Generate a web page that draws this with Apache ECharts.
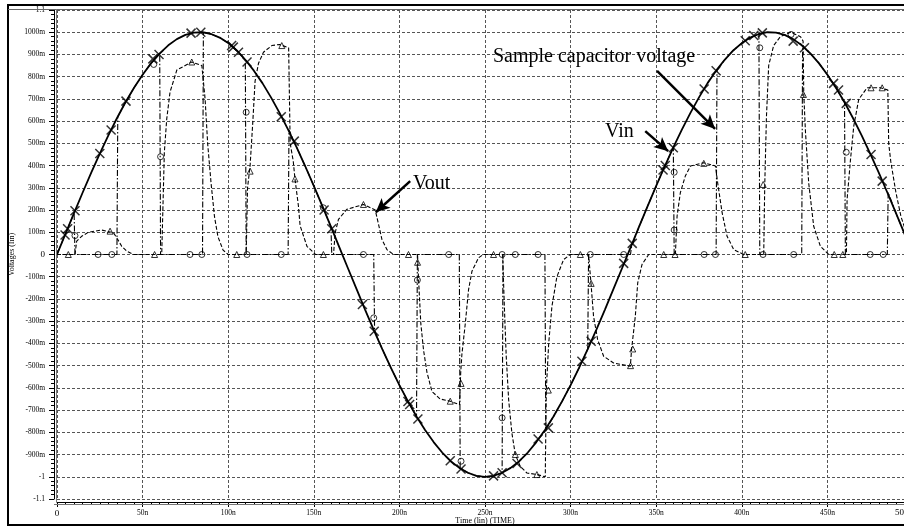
<!DOCTYPE html>
<html><head><meta charset="utf-8">
<script src="https://cdn.jsdelivr.net/npm/echarts@6/dist/echarts.min.js"></script>
<style>html,body{margin:0;padding:0;background:#fff}#c{width:904px;height:527px}</style>
</head><body><div id="c"></div>
<script>
// ---- data (time in ns, voltage in V) ----
const vinTime = [0,5,10,15,20,25,30,35,40,45,50,55,60,65,70,75,80,85,90,95,100,105,110,115,120,125,130,135,140,145,150,155,160,165,170,175,180,185,190,195,200,205,210,215,220,225,230,235,240,245,250,255,260,265,270,275,280,285,290,295,300,305,310,315,320,325,330,335,340,345,350,355,360,365,370,375,380,385,390,395,400,405,410,415,420,425,430,435,440,445,450,455,460,465,470,475,480,485,490,495,500];
const vinValues = [0,0.094,0.187,0.279,0.368,0.454,0.536,0.613,0.685,0.750,0.809,0.861,0.905,0.941,0.969,0.988,0.998,1.000,0.992,0.976,0.951,0.918,0.876,0.827,0.771,0.707,0.637,0.562,0.482,0.397,0.309,0.218,0.125,0.031,-0.063,-0.156,-0.249,-0.339,-0.426,-0.509,-0.588,-0.661,-0.729,-0.790,-0.844,-0.891,-0.930,-0.960,-0.982,-0.996,-1.000,-0.996,-0.982,-0.960,-0.930,-0.891,-0.844,-0.790,-0.729,-0.661,-0.588,-0.509,-0.426,-0.339,-0.249,-0.156,-0.063,0.031,0.125,0.218,0.309,0.397,0.482,0.562,0.637,0.707,0.771,0.827,0.876,0.918,0.951,0.976,0.992,1.000,0.998,0.988,0.969,0.941,0.905,0.861,0.809,0.750,0.685,0.613,0.536,0.454,0.368,0.279,0.187,0.094,0.000];

const capData = [[0,0],[5,0.094],[10,0.187],[10.5,0],[35,0],[35.5,0.62],[40,0.685],[45,0.75],[50,0.809],[55,0.861],[60,0.905],[60.5,0],[85,0],[85.5,0.999],[90,0.992],[95,0.976],[100,0.951],[105,0.918],[110,0.876],[110.5,0],[135,0],[135.5,0.56],[140,0.482],[145,0.397],[150,0.309],[155,0.218],[160,0.125],[160.5,0],[185,0],[185.5,-0.34],[190,-0.426],[195,-0.509],[200,-0.588],[205,-0.661],[210,-0.729],[210.5,0],[235,0],[235.5,-0.96],[240,-0.982],[245,-0.996],[250,-1.0],[255,-0.996],[260,-0.982],[260.5,0],[285,0],[285.5,-0.79],[290,-0.729],[295,-0.661],[300,-0.588],[305,-0.509],[310,-0.426],[310.5,0],[335,0],[335.5,0.031],[340,0.125],[345,0.218],[350,0.309],[355,0.397],[360,0.482],[360.5,0],[385,0],[385.5,0.827],[390,0.876],[395,0.918],[400,0.951],[405,0.976],[410,0.992],[410.5,0],[435,0],[435.5,0.941],[440,0.905],[445,0.861],[450,0.809],[455,0.750],[460,0.685],[460.5,0],[485,0],[485.5,0.279],[490,0.187],[495,0.094],[500,0]];

const voutData = [[0,0],[10.5,0],[11.5,0.06],[14.4,0.082],[18.3,0.1],[26,0.11],[33,0.098],[34.9,0.075],[37.8,0.037],[40.7,0.015],[44.6,0],
[60.5,0],[61.2,0.01],[62.7,0.46],[64.1,0.61],[66,0.73],[70,0.83],[78.7,0.866],[84.6,0.85],[85.5,0.85],[86.5,0.7],[88,0.5],[90,0.32],[92,0.17],[94,0.08],[97,0.02],[100,0],
[110.5,0],[111.3,0.3],[112.8,0.4],[114.4,0.6],[115.7,0.78],[117.7,0.86],[120.6,0.91],[125.5,0.94],[130,0.945],[135.3,0.93],[136.2,0.5],[138,0.42],[139,0.34],[141,0.22],[142,0.13],[146,0.037],[151,0],
[161.5,0],[162.5,0.098],[164.4,0.158],[169.3,0.203],[179,0.225],[185.9,0.2],[186.8,0.17],[189.8,0.068],[192.7,0.022],[196.6,0],
[210.6,0],[211.2,-0.113],[212.5,-0.31],[214.1,-0.43],[216.1,-0.53],[219,-0.616],[223.8,-0.65],[229.7,-0.66],[235.1,-0.676],[235.8,-0.533],[236.5,-0.45],[238.5,-0.31],[240.4,-0.158],[242.4,-0.075],[246.2,-0.015],[249,0],
[260.3,0],[261.3,-0.233],[262.4,-0.458],[263.8,-0.653],[265.7,-0.803],[267.7,-0.9],[270.6,-0.953],[274.5,-0.983],[280.3,-0.99],[285.2,-1.0],[285.8,-0.61],[287.2,-0.4],[289.1,-0.233],[292,-0.1],[295.9,-0.023],[299.8,0],
[310.5,0],[311.9,-0.128],[313.4,-0.278],[315.8,-0.383],[319.3,-0.458],[325.1,-0.488],[334.9,-0.503],[335.6,-0.428],[337.8,-0.278],[339.2,-0.128],[341.7,-0.045],[345.6,0],
[361.2,0],[362.2,0.173],[364.1,0.278],[367,0.353],[370,0.398],[377.7,0.413],[384.6,0.398],[385.9,0.323],[388.5,0.188],[391.4,0.082],[395.3,0.022],[401.1,0],
[412.8,0],[413.4,0.31],[414.4,0.62],[415.7,0.85],[418.6,0.94],[422.5,0.98],[428.4,1.0],[434.3,0.98],[435.8,0.96],[436.2,0.72],[437.2,0.55],[439.1,0.32],[442,0.127],[445.9,0.037],[450.8,0],
[461.1,0],[461.5,0.248],[463.5,0.428],[465.4,0.578],[468.3,0.698],[473.2,0.75],[481,0.75],[485.3,0.74],[485.8,0.5],[487,0.42],[490,0.28],[493,0.17],[496,0.1],[500,0.04]];

const vinMarks = [[4.7,0.088],[6.2,0.116],[10.5,0.197],[25,0.454],[31.6,0.56],[40.3,0.69],[56,0.88],[59.6,0.9],[78.3,0.996],[84,1.0],[102,0.94],[103,0.933],[106,0.91],[111,0.866],[131,0.62],[138.6,0.51],[156,0.2],[160.5,0.116],[178.4,-0.225],[185.3,-0.345],[205,-0.661],[206,-0.675],[210.8,-0.74],[229.7,-0.928],[236,-0.965],[255,-0.996],[260,-0.982],[268.7,-0.94],[281,-0.83],[287,-0.78],[306.6,-0.48],[312,-0.39],[331,-0.04],[336,0.05],[354,0.38],[355.3,0.4],[360,0.48],[378,0.745],[385,0.827],[402,0.962],[407,0.985],[412,0.997],[430,0.96],[436.6,0.93],[453.6,0.77],[456.5,0.74],[461,0.68],[475.5,0.45],[482,0.33]];

const capMarks = [[10.5,0.085],[24,0],[32,0],[56.5,0.855],[60.5,0.44],[77.7,0],[84.6,0],[110.5,0.64],[111,0],[131,0],[155.6,0.21],[179,0],[185,-0.285],[210.5,-0.115],[228.8,0],[236,-0.93],[260,-0.735],[260,0],[267.7,0],[281,0],[311.5,0],[331,0],[360.5,0.37],[360.5,0.11],[378,0],[384.6,0],[410.5,0.93],[412.4,0],[428.8,0.99],[430.3,0],[461,0.46],[475,0],[482.6,0]];

const voutMarks = [[6.6,0],[31,0.105],[57,0],[78.7,0.866],[105,0],[112.8,0.375],[131.3,0.94],[139,0.34],[155.6,0],[179,0.225],[205.3,0],[210.6,-0.035],[229.7,-0.66],[236,-0.58],[255,0],[267.7,-0.9],[280.3,-0.99],[287,-0.61],[305.7,0],[312,-0.13],[335,-0.5],[336.3,-0.425],[354.4,0],[361,0],[377.8,0.41],[402,0],[412.5,0.315],[436,0.72],[454,0],[459,0],[475.5,0.75],[482,0.75]];

const yTickLabels = ['-1.1','-1','-900m','-800m','-700m','-600m','-500m','-400m','-300m','-200m','-100m','0','100m','200m','300m','400m','500m','600m','700m','800m','900m','1000m','1.1'];
const xTickLabels = ['0','50n','100n','150n','200n','250n','300n','350n','400n','450n','500n'];

// annotation arrows (data coordinates: [tail],[head])
const arrows = [
  [[206.3,0.33],[186.2,0.19]],
  [[350.5,0.826],[384.4,0.565]],
  [[343.6,0.555],[357,0.465]]
];

const chart = echarts.init(document.getElementById('c'), null, {renderer:'canvas'});
const FONT = '"Liberation Serif", "Times New Roman", serif';
const vinData = vinTime.map((t,i)=>[t, vinValues[i]]);

chart.setOption({
  animation:false,
  backgroundColor:'#fff',
  grid:{left:57, top:10, width:856, height:489, outerBoundsMode:'none', containLabel:false},
  xAxis:{
    type:'value', min:0, max:500, interval:50, offset:3,
    name:'Time (lin) (TIME)', nameLocation:'middle', nameGap:15, nameMoveOverlap:false,
    nameTextStyle:{fontFamily:FONT, fontSize:8, color:'#000'},
    axisLine:{onZero:false, lineStyle:{color:'#000', width:1}},
    axisTick:{length:5, lineStyle:{color:'#000'}},
    minorTick:{show:true, splitNumber:10, length:3, lineStyle:{color:'#000'}},
    axisLabel:{margin:7, color:'#000', fontFamily:FONT, fontSize:7.5,
      formatter:function(v){const i=Math.round(v/50); if(i>=10) return ''; const s=xTickLabels[i]; return s==='0'?'{b|0}':s;},
      rich:{b:{fontSize:9, fontFamily:FONT, color:'#000'}}},
    splitLine:{show:true, lineStyle:{color:'#555', width:1, type:[3,2]}},
    minorSplitLine:{show:false}
  },
  yAxis:{
    type:'value', min:-1.1, max:1.1, interval:0.1, offset:3,
    name:'Voltages (lin)', nameLocation:'middle', nameGap:38, nameRotate:90, nameMoveOverlap:false,
    nameTextStyle:{fontFamily:FONT, fontSize:8, color:'#000'},
    axisLine:{onZero:false, lineStyle:{color:'#000', width:1}},
    axisTick:{length:5, lineStyle:{color:'#000'}},
    minorTick:{show:true, splitNumber:5, length:3, lineStyle:{color:'#000'}},
    axisLabel:{margin:9, color:'#000', fontFamily:FONT, fontSize:7.5,
      formatter:function(v){const s=yTickLabels[Math.round(v*10)+11]; return s==='0'?'{b|0}':s;},
      rich:{b:{fontSize:9, fontFamily:FONT, color:'#000'}}},
    splitLine:{show:true, lineStyle:{color:'#555', width:1, type:[3,2]}}
  },
  series:[
    {name:'Vin', type:'line', data:vinData, showSymbol:false, symbol:'none',
     lineStyle:{color:'#000', width:1.8}, z:5,
     markLine:{silent:true, symbol:['none','arrow'], symbolSize:[10,14], animation:false,
       label:{show:false}, lineStyle:{color:'#000', width:2.5, type:'solid'},
       data: arrows.map(a=>[{coord:a[0]},{coord:a[1]}])}},
    {name:'Sample capacitor voltage', type:'line', data:capData, showSymbol:false, symbol:'none',
     lineStyle:{color:'#000', width:1.1, type:[6,2,1.5,2]}, z:4},
    {name:'Vout', type:'line', data:voutData, showSymbol:false, symbol:'none',
     lineStyle:{color:'#000', width:1.1, type:[4,2]}, z:4},
    {name:'VinMarks', type:'scatter', data:vinMarks, symbol:'path://M0 0L10 10M10 0L0 10', symbolSize:9,
     itemStyle:{color:'rgba(0,0,0,0)', borderColor:'#000', borderWidth:1.5}, z:6},
    {name:'CapMarks', type:'scatter', data:capMarks, symbol:'circle', symbolSize:6,
     itemStyle:{color:'rgba(0,0,0,0)', borderColor:'#000', borderWidth:1}, z:6},
    {name:'VoutMarks', type:'scatter', data:voutMarks, symbol:'triangle', symbolSize:6,
     itemStyle:{color:'rgba(0,0,0,0)', borderColor:'#000', borderWidth:1}, z:6}
  ],
  graphic:[
    {type:'rect', silent:true, z:100, shape:{x:8, y:5, width:940, height:520}, style:{fill:'none', stroke:'#000', lineWidth:2}},
    {type:'line', silent:true, z:100, shape:{x1:8, y1:9.5, x2:904, y2:9.5}, style:{stroke:'#666', lineWidth:1}},
    {type:'line', silent:true, z:100, shape:{x1:56.5, y1:9, x2:56.5, y2:502}, style:{stroke:'#777', lineWidth:1}},
    {type:'line', silent:true, z:100, shape:{x1:54, y1:504.5, x2:904, y2:504.5}, style:{stroke:'#777', lineWidth:1}},
    {type:'text', silent:true, z:100, style:{text:xTickLabels[10], x:895, y:513, fill:'#000', font:'9px '+FONT, verticalAlign:'middle'}},
    {type:'text', silent:true, z:100, style:{text:'Vout', x:413, y:184, fill:'#000', font:'20px '+FONT, verticalAlign:'middle'}},
    {type:'text', silent:true, z:100, style:{text:'Sample capacitor voltage', x:493, y:57, fill:'#000', font:'20px '+FONT, verticalAlign:'middle'}},
    {type:'text', silent:true, z:100, style:{text:'Vin', x:605, y:132, fill:'#000', font:'20px '+FONT, verticalAlign:'middle'}}
  ]
});
</script></body></html>
